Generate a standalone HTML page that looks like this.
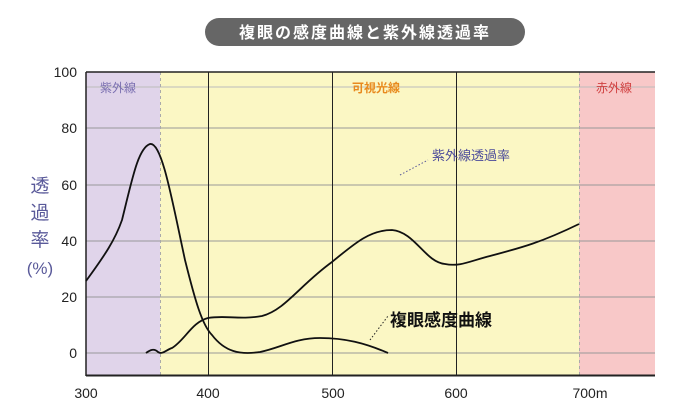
<!DOCTYPE html>
<html><head><meta charset="utf-8"><style>
body{margin:0;background:#fff;width:700px;height:416px;overflow:hidden}
svg{display:block;font-family:"Liberation Sans","Noto Sans CJK JP",sans-serif}
</style></head><body>
<svg width="700" height="416" viewBox="0 0 700 416">
<rect x="205" y="18" width="320" height="28" rx="14" fill="#666"/>
<text x="365" y="38" text-anchor="middle" fill="#fff" font-size="16" font-weight="bold" letter-spacing="2">複眼の感度曲線と紫外線透過率</text>
<rect x="86" y="72" width="74" height="303" fill="#e0d4ea"/>
<rect x="160" y="72" width="419" height="303" fill="#fbf7c4"/>
<rect x="579" y="72" width="76" height="303" fill="#f8c8c8"/>
<g stroke="#999" stroke-width="1">
<line x1="86" y1="128" x2="655" y2="128"/><line x1="86" y1="185" x2="655" y2="185"/>
<line x1="86" y1="241" x2="655" y2="241"/><line x1="86" y1="297" x2="655" y2="297"/>
<line x1="86" y1="353" x2="655" y2="353"/><line x1="86" y1="87" x2="655" y2="87" stroke="#bbb"/>
</g>
<g stroke="#aaa" stroke-dasharray="3,3"><line x1="160.5" y1="72" x2="160.5" y2="375"/><line x1="579.5" y1="72" x2="579.5" y2="375"/></g>
<g stroke="#222" stroke-width="1"><line x1="208.5" y1="72" x2="208.5" y2="375"/><line x1="332.5" y1="72" x2="332.5" y2="375"/><line x1="456.5" y1="72" x2="456.5" y2="375"/></g>
<line x1="86" y1="72" x2="655" y2="72" stroke="#222" stroke-width="1.5"/>
<line x1="86" y1="72" x2="86" y2="376" stroke="#222" stroke-width="1.5"/>
<line x1="86" y1="375.5" x2="655" y2="375.5" stroke="#222" stroke-width="2"/>
<g font-size="14" fill="#222" text-anchor="end">
<text x="77" y="77">100</text><text x="77" y="133">80</text><text x="77" y="190">60</text><text x="77" y="246">40</text><text x="77" y="302">20</text><text x="77" y="358">0</text></g>
<g font-size="14" fill="#222" text-anchor="middle">
<text x="86" y="398">300</text><text x="208" y="398">400</text><text x="333" y="398">500</text><text x="456" y="398">600</text><text x="590" y="398">700m</text></g>
<g fill="#5a5a9a" font-size="19" text-anchor="middle"><text x="40" y="192">透</text><text x="40" y="219">過</text><text x="40" y="246">率</text><text x="40" y="274" font-size="17">(%)</text></g>
<text x="100" y="92" font-size="12" fill="#7a6fb0">紫外線</text>
<text x="352" y="92" font-size="12" fill="#e88a1e" font-weight="bold">可視光線</text>
<text x="596" y="92" font-size="12" fill="#d04040">赤外線</text>
<path d="M86,281 C105,255 115,240 122,220 C132,180 138,148 150,144 C162,142 172,200 185,260 C195,300 202,325 212,335 C225,352 240,355 260,352 C280,348 295,338 320,338 C345,338 365,343 388,353" fill="none" stroke="#111" stroke-width="1.8"/>
<path d="M146,353 C150,350 154,348 158,352 C162,355 166,350 172,348 C185,340 192,322 208,318 C225,315 240,320 262,316 C285,310 300,285 332,262 C355,243 370,230 392,230 C415,232 425,262 445,264 C460,267 470,261 490,256 C520,248 540,243 579,224" fill="none" stroke="#111" stroke-width="1.8"/>
<line x1="400" y1="175" x2="428" y2="160" stroke="#5a5a9a" stroke-dasharray="1.5,2"/>
<text x="432" y="160" font-size="13" fill="#4a4a9a">紫外線透過率</text>
<line x1="370" y1="340" x2="388" y2="316" stroke="#222" stroke-dasharray="1.5,2"/>
<text x="390" y="326" font-size="17" font-weight="bold" fill="#111">複眼感度曲線</text>
</svg>
</body></html>
